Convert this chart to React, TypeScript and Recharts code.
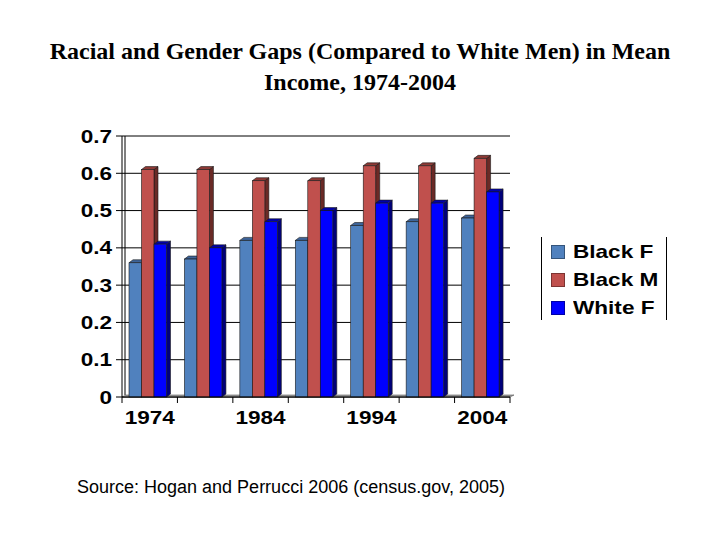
import React from 'react';
import { BarChart, Bar, XAxis, YAxis, CartesianGrid } from 'recharts';

// Survey years (every fifth year) and the ones that carry a printed label
const years = ['1974', '1979', '1984', '1989', '1994', '1999', '2004'];
const labeledYears = ['1974', '1984', '1994', '2004'];

// Mean income as a share of white men's mean income
const blackFemale = [0.36, 0.37, 0.42, 0.42, 0.46, 0.47, 0.48];
const blackMale = [0.61, 0.61, 0.58, 0.58, 0.62, 0.62, 0.64];
const whiteFemale = [0.41, 0.4, 0.47, 0.5, 0.52, 0.52, 0.55];

const yTicks = [0, 0.1, 0.2, 0.3, 0.4, 0.5, 0.6, 0.7];

const seriesNames = ['Black F', 'Black M', 'White F'];
const seriesFront = ['#5081BE', '#C0504D', '#0000FF'];
const seriesSide = ['#2B4A78', '#6A2A26', '#00007A'];
const seriesTop = ['#3E6499', '#8E3A36', '#0000A8'];

const data = years.map((year, i) => ({
  year,
  blackF: blackFemale[i],
  blackM: blackMale[i],
  whiteF: whiteFemale[i],
}));

// chart geometry
const W = 720;
const H = 540;
const PLOT_LEFT = 122;
const PLOT_RIGHT = 510;
const PLOT_TOP = 136;
const PLOT_BOTTOM = 397;
const Y_AXIS_W = 60;
const X_AXIS_H = 30;
const BAND = (PLOT_RIGHT - PLOT_LEFT) / years.length;
const DEPTH_X = 4;
const DEPTH_Y = 3;

const FONT = "'Liberation Sans', Arial, sans-serif";

// Bold sans text, widened horizontally
const WideText = ({ x, y, anchor, children }: any) => (
  <text
    transform={`translate(${x},${y}) scale(1.22,1)`}
    textAnchor={anchor}
    fontFamily={FONT}
    fontWeight="bold"
    fontSize={18.5}
    fill="#000"
  >
    {children}
  </text>
);

const makeBar3D = (idx: number) => (props: any) => {
  const { x, y, width, height } = props;
  if (width == null || height == null) return null;
  const bx = x - 2;
  const front = seriesFront[idx];
  const side = seriesSide[idx];
  const top = seriesTop[idx];
  const stroke = '#1a1a1a';
  return (
    <g>
      <polygon
        points={`${bx + width},${y} ${bx + width + DEPTH_X},${y - DEPTH_Y} ${bx + width + DEPTH_X},${y + height - DEPTH_Y} ${bx + width},${y + height}`}
        fill={side}
        stroke={stroke}
        strokeWidth={0.6}
      />
      <polygon
        points={`${bx},${y} ${bx + DEPTH_X},${y - DEPTH_Y} ${bx + width + DEPTH_X},${y - DEPTH_Y} ${bx + width},${y}`}
        fill={top}
        stroke={stroke}
        strokeWidth={0.6}
      />
      <rect x={bx} y={y} width={width} height={height} fill={front} stroke={stroke} strokeWidth={0.6} />
    </g>
  );
};

const YTick = (props: any) => {
  const { x, y, payload } = props;
  const v = payload.value;
  const label = v === 0 ? '0' : v.toFixed(1);
  return <WideText x={x} y={y + 6.5} anchor="end">{label}</WideText>;
};

const XTick = (props: any) => {
  const { x, payload, index } = props;
  const year = payload.value;
  const left = x - BAND / 2;
  return (
    <g>
      <line x1={left} y1={PLOT_BOTTOM} x2={left} y2={PLOT_BOTTOM + 6} stroke="#000" />
      {index === years.length - 1 && (
        <line x1={left + BAND} y1={PLOT_BOTTOM} x2={left + BAND} y2={PLOT_BOTTOM + 6} stroke="#000" />
      )}
      {labeledYears.includes(year) && (
        <WideText x={x} y={PLOT_BOTTOM + 27} anchor="middle">{year}</WideText>
      )}
    </g>
  );
};

// Floor slab and the back edge of the left wall
const Walls = () => (
  <g>
    <polygon
      points={`${PLOT_LEFT},${PLOT_BOTTOM} ${PLOT_LEFT + DEPTH_X},${PLOT_BOTTOM - 2} ${PLOT_RIGHT + DEPTH_X},${PLOT_BOTTOM - 2} ${PLOT_RIGHT},${PLOT_BOTTOM}`}
      fill="#A0A0A0"
      stroke="#555"
      strokeWidth={0.6}
    />
    <line x1={PLOT_LEFT + 3} y1={PLOT_TOP} x2={PLOT_LEFT + 3} y2={PLOT_BOTTOM - 2} stroke="#000" strokeWidth={1} />
  </g>
);

const LegendBox = () => (
  <div
    style={{
      position: 'absolute',
      left: 541,
      top: 237,
      width: 126,
      height: 83,
      borderLeft: '1px solid #000',
      borderRight: '1px solid #000',
      boxSizing: 'border-box',
    }}
  >
    {seriesNames.map((name, i) => (
      <div key={name} style={{ position: 'absolute', left: 9, top: 8 + i * 28, height: 14, width: 120 }}>
        <div
          style={{
            position: 'absolute',
            left: 0,
            top: 0,
            width: 14,
            height: 14,
            background: seriesFront[i],
            boxSizing: 'border-box',
            border: '1px solid rgba(0,0,0,0.35)',
          }}
        />
        <div
          style={{
            position: 'absolute',
            left: 22,
            top: -4,
            fontFamily: FONT,
            fontWeight: 'bold',
            fontSize: 18.5,
            lineHeight: '22px',
            whiteSpace: 'nowrap',
            transform: 'scaleX(1.22)',
            transformOrigin: 'left center',
            color: '#000',
          }}
        >
          {name}
        </div>
      </div>
    ))}
  </div>
);

export default function App() {
  return (
    <div style={{ position: 'absolute', left: 0, top: 0, width: W, height: H, background: '#fff', overflow: 'hidden' }}>
      <div
        style={{
          position: 'absolute',
          left: 0,
          top: 36,
          width: W,
          textAlign: 'center',
          fontFamily: "'Liberation Serif', 'Times New Roman', serif",
          fontWeight: 'bold',
          fontSize: 24,
          lineHeight: '31px',
          color: '#000',
        }}
      >
        Racial and Gender Gaps (Compared to White Men) in Mean
        <br />
        Income, 1974-2004
      </div>
      <div style={{ position: 'absolute', left: 0, top: 0 }}>
        <BarChart
          width={W}
          height={H}
          data={data}
          margin={{ top: PLOT_TOP, right: W - PLOT_RIGHT, bottom: H - PLOT_BOTTOM - X_AXIS_H, left: PLOT_LEFT - Y_AXIS_W }}
          barGap={0}
          barSize={12.5}
        >
          <CartesianGrid vertical={false} stroke="#000" strokeWidth={1} />
          <Walls />
          <XAxis
            dataKey="year"
            height={X_AXIS_H}
            axisLine={{ stroke: '#000' }}
            tickLine={false}
            interval={0}
            tick={<XTick />}
          />
          <YAxis
            width={Y_AXIS_W}
            domain={[0, 0.7]}
            ticks={yTicks}
            axisLine={{ stroke: '#000' }}
            tickLine={{ stroke: '#000' }}
            tickSize={6}
            tickMargin={4}
            tick={<YTick />}
            interval={0}
          />
          <YAxis
            yAxisId="right"
            orientation="right"
            width={0}
            domain={[0, 0.7]}
            tick={false}
            tickLine={false}
            axisLine={{ stroke: '#000' }}
          />
          <Bar dataKey="blackF" name={seriesNames[0]} fill={seriesFront[0]} shape={makeBar3D(0)} isAnimationActive={false} />
          <Bar dataKey="blackM" name={seriesNames[1]} fill={seriesFront[1]} shape={makeBar3D(1)} isAnimationActive={false} />
          <Bar dataKey="whiteF" name={seriesNames[2]} fill={seriesFront[2]} shape={makeBar3D(2)} isAnimationActive={false} />
        </BarChart>
      </div>
      <LegendBox />
      <div
        style={{
          position: 'absolute',
          left: 77,
          top: 476,
          fontFamily: FONT,
          fontSize: 18,
          lineHeight: '22px',
          color: '#000',
          whiteSpace: 'nowrap',
        }}
      >
        Source: Hogan and Perrucci 2006 (census.gov, 2005)
      </div>
    </div>
  );
}
